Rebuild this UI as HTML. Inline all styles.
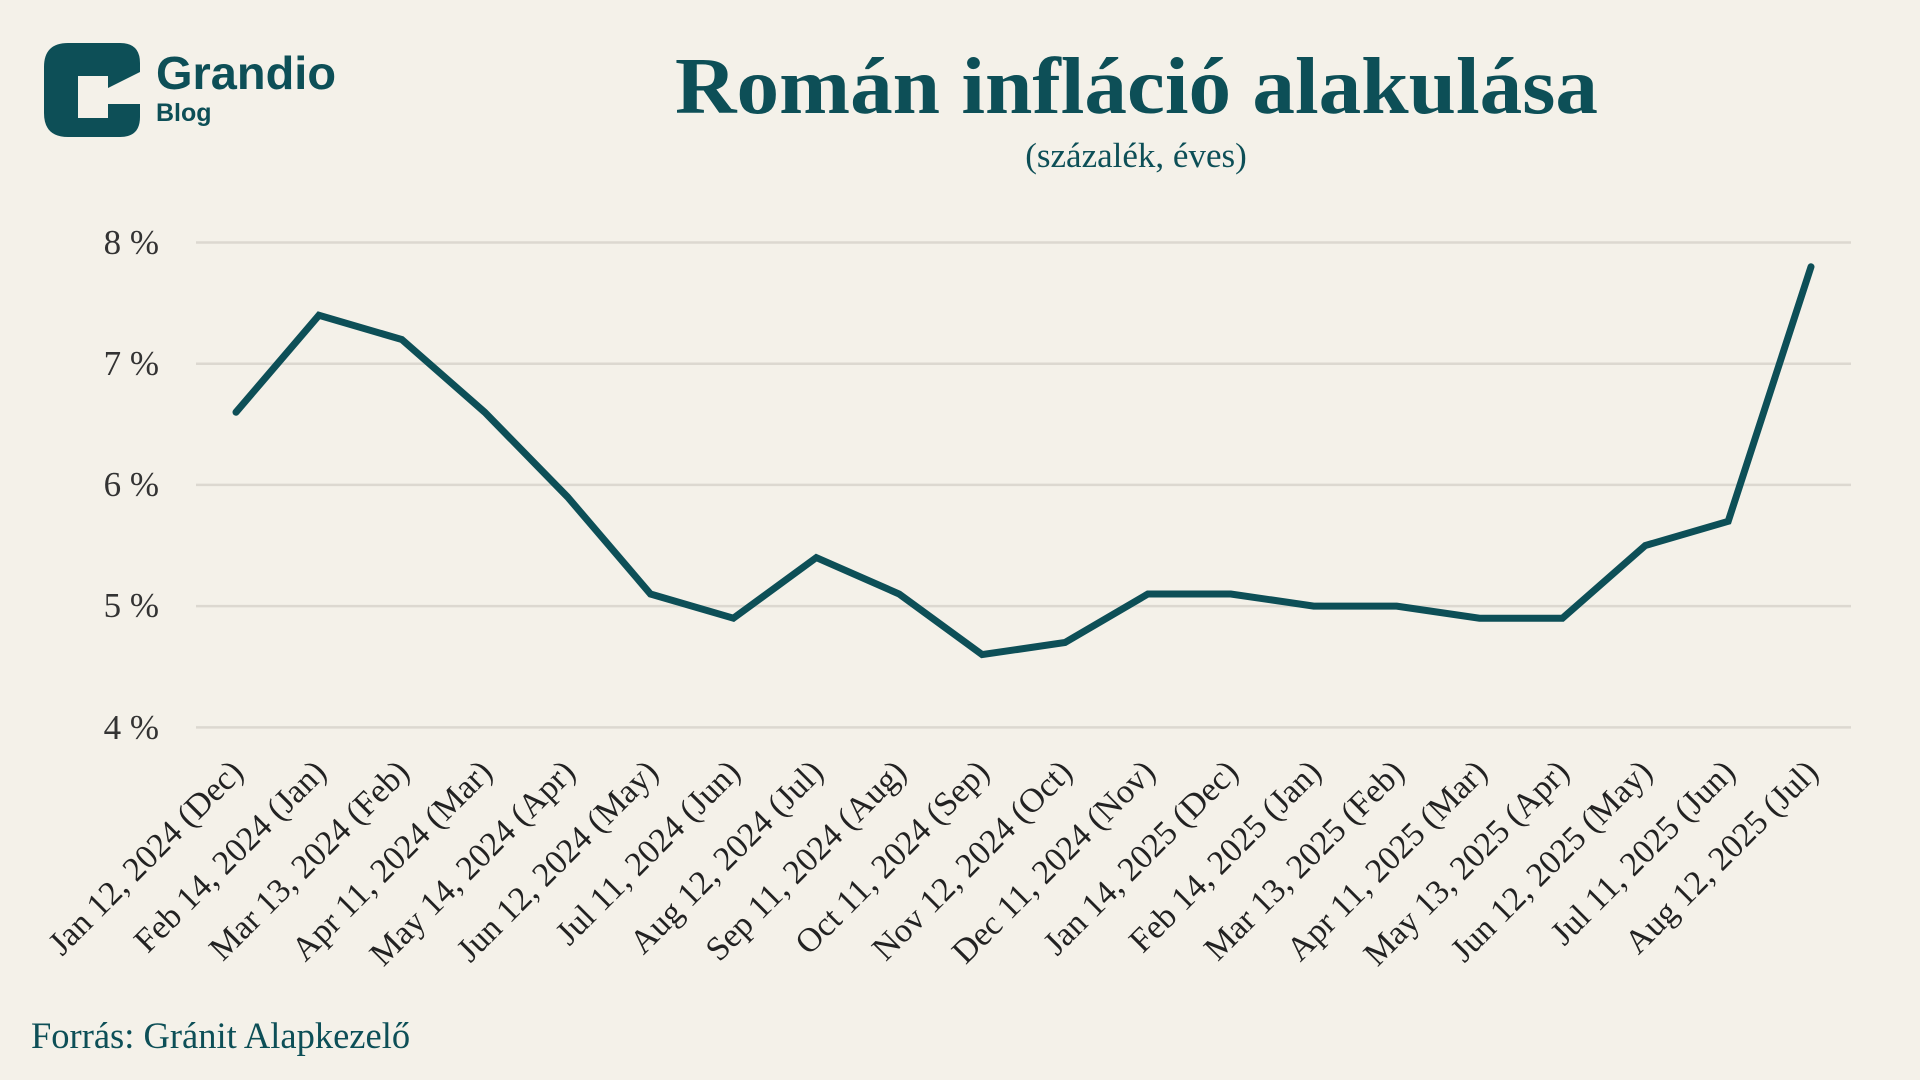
<!DOCTYPE html>
<html><head><meta charset="utf-8"><style>
html,body{margin:0;padding:0;background:#f4f1e9;}
svg{display:block}
</style></head><body>
<svg width="1920" height="1080" viewBox="0 0 1920 1080" xmlns="http://www.w3.org/2000/svg">
<rect width="1920" height="1080" fill="#f4f1e9"/>
<!-- logo -->
<g fill="#0d4f57">
<path d="M68 43 H120 Q140 43 140 63 V72 L108 88 V76 H78 V118 H108 V104 H140 V117 Q140 137 120 137 H68 Q44 137 44 113 V67 Q44 43 68 43 Z"/>
</g>
<text x="156" y="89" textLength="180" lengthAdjust="spacingAndGlyphs" font-family="Liberation Sans, sans-serif" font-weight="bold" font-size="46" fill="#0d4f57">Grandio</text>
<text x="156" y="121" font-family="Liberation Sans, sans-serif" font-weight="bold" font-size="25" fill="#0d4f57">Blog</text>
<!-- title -->
<text x="675" y="113" textLength="923" lengthAdjust="spacingAndGlyphs" font-family="Liberation Serif, serif" font-weight="bold" font-size="80" fill="#0d4f57">Román infláció alakulása</text>
<text x="1136" y="167" text-anchor="middle" font-family="Liberation Serif, serif" font-size="35" fill="#0d4f57">(százalék, éves)</text>
<!-- grid -->
<g stroke="#dcd8d0" stroke-width="2.5">
<line x1="196" y1="242.5" x2="1851" y2="242.5"/>
<line x1="196" y1="363.7" x2="1851" y2="363.7"/>
<line x1="196" y1="484.9" x2="1851" y2="484.9"/>
<line x1="196" y1="606.1" x2="1851" y2="606.1"/>
<line x1="196" y1="727.4" x2="1851" y2="727.4"/>
</g>
<g font-family="Liberation Serif, serif" font-size="35" fill="#333" text-anchor="end">
<text x="159" y="254">8 %</text>
<text x="159" y="375">7 %</text>
<text x="159" y="496">6 %</text>
<text x="159" y="617">5 %</text>
<text x="159" y="739">4 %</text>
</g>
<!-- line -->
<polyline fill="none" stroke="#0d4f57" stroke-width="7" stroke-linejoin="miter" stroke-linecap="round"
points="236,412.2 318.9,315.3 401.8,339.5 484.7,412.2 567.6,497 650.5,594 733.4,618.2 816.3,557.6 899.2,594 982.1,654.6 1065,642.5 1147.9,594 1230.8,594 1313.7,606.1 1396.6,606.1 1479.5,618.2 1562.4,618.2 1645.3,545.5 1728.2,521.3 1811,266.8"/>
<!-- x labels -->
<g font-family="Liberation Serif, serif" font-size="34" fill="#222" text-anchor="end">
<text transform="translate(245,774) rotate(-45)">Jan 12, 2024 (Dec)</text>
<text transform="translate(328,774) rotate(-45)">Feb 14, 2024 (Jan)</text>
<text transform="translate(411,774) rotate(-45)">Mar 13, 2024 (Feb)</text>
<text transform="translate(494,774) rotate(-45)">Apr 11, 2024 (Mar)</text>
<text transform="translate(577,774) rotate(-45)">May 14, 2024 (Apr)</text>
<text transform="translate(660,774) rotate(-45)">Jun 12, 2024 (May)</text>
<text transform="translate(742,774) rotate(-45)">Jul 11, 2024 (Jun)</text>
<text transform="translate(825,774) rotate(-45)">Aug 12, 2024 (Jul)</text>
<text transform="translate(908,774) rotate(-45)">Sep 11, 2024 (Aug)</text>
<text transform="translate(991,774) rotate(-45)">Oct 11, 2024 (Sep)</text>
<text transform="translate(1074,774) rotate(-45)">Nov 12, 2024 (Oct)</text>
<text transform="translate(1157,774) rotate(-45)">Dec 11, 2024 (Nov)</text>
<text transform="translate(1240,774) rotate(-45)">Jan 14, 2025 (Dec)</text>
<text transform="translate(1323,774) rotate(-45)">Feb 14, 2025 (Jan)</text>
<text transform="translate(1406,774) rotate(-45)">Mar 13, 2025 (Feb)</text>
<text transform="translate(1489,774) rotate(-45)">Apr 11, 2025 (Mar)</text>
<text transform="translate(1571,774) rotate(-45)">May 13, 2025 (Apr)</text>
<text transform="translate(1654,774) rotate(-45)">Jun 12, 2025 (May)</text>
<text transform="translate(1737,774) rotate(-45)">Jul 11, 2025 (Jun)</text>
<text transform="translate(1820,774) rotate(-45)">Aug 12, 2025 (Jul)</text>
</g>
<text x="31" y="1048" font-family="Liberation Serif, serif" font-size="36.5" fill="#0d4f57">Forrás: Gránit Alapkezelő</text>
</svg>
</body></html>
